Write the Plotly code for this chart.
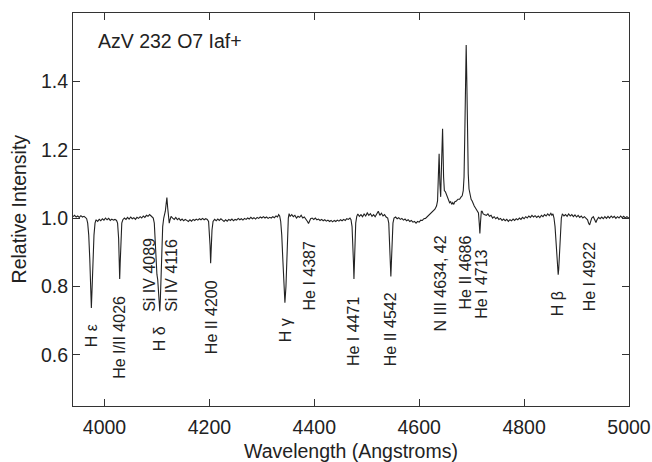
import plotly.graph_objects as go

# ---- spectrum samples (wavelength in Angstrom, relative intensity) ----
wavelength = [
    3940, 3943, 3946, 3949, 3952, 3955, 3958, 3961, 3964, 3966,
    3968, 3970, 3972, 3973.5, 3975, 3976.5, 3978, 3980, 3982, 3984,
    3987, 3990, 3993, 3996, 3999, 4002, 4005, 4008, 4011, 4014, 4017, 4020, 4023,
    4025, 4027, 4028, 4029, 4030, 4031, 4033, 4035,
    4038, 4041, 4044, 4047, 4050, 4053, 4056, 4059, 4062, 4065, 4068, 4071, 4074, 4077, 4080, 4083, 4086, 4089,
    4093, 4095, 4097, 4098.5, 4100, 4101.5, 4103, 4104.5, 4105.5, 4106.5, 4108, 4109.5, 4111, 4113,
    4114.5, 4116, 4117.5, 4119, 4120.5, 4122, 4123.5, 4125, 4127,
    4130, 4133, 4136, 4139, 4142, 4145, 4148, 4151, 4154, 4157, 4160, 4163, 4166, 4169, 4172, 4175,
    4178, 4181, 4184, 4187, 4190, 4193, 4196, 4198.5,
    4200, 4201.3, 4202.4, 4203.5, 4205, 4207,
    4210, 4213, 4216, 4219, 4222, 4225, 4228, 4231, 4234, 4237, 4240, 4243, 4246, 4249, 4252, 4255,
    4258, 4261, 4264, 4267, 4270, 4273, 4276, 4279, 4282, 4285, 4288, 4291, 4294, 4297, 4300, 4303,
    4306, 4309, 4312, 4315, 4318, 4321, 4324, 4327, 4330, 4332, 4334,
    4336, 4338, 4340, 4342, 4344, 4346, 4347.5, 4349, 4350.5, 4352, 4354,
    4357, 4360, 4363, 4366, 4369, 4372, 4375, 4378, 4381, 4384, 4387, 4389, 4391, 4393, 4396, 4399,
    4402, 4405, 4408, 4411, 4414, 4417, 4420, 4423, 4426, 4429, 4432, 4435, 4438, 4441, 4444, 4447,
    4450, 4453, 4456, 4459, 4462, 4465, 4468, 4470,
    4472, 4473.5, 4474.7, 4475.6, 4476.5, 4477.7, 4479, 4481, 4483,
    4486, 4489, 4492, 4495, 4498, 4501, 4504, 4507, 4510, 4513, 4516, 4519, 4522, 4525, 4528, 4531,
    4534, 4537, 4540,
    4542, 4543.5, 4545, 4546, 4547, 4548.5, 4550, 4552,
    4555, 4558, 4561, 4564, 4567, 4570, 4573, 4576, 4579, 4582, 4585, 4588, 4591, 4594, 4597, 4600,
    4603, 4606, 4609, 4612, 4615, 4618, 4621, 4624, 4627, 4630, 4633, 4635,
    4636.5, 4638, 4639.5, 4641, 4642.5, 4644.6, 4646.5, 4648, 4650, 4652, 4654, 4656, 4658, 4660,
    4662, 4664, 4666, 4668, 4671, 4674, 4677, 4680, 4682, 4684,
    4685.5, 4687, 4688.3, 4689.6, 4690.8, 4692, 4693.5, 4695, 4697, 4699, 4701, 4703, 4705, 4707,
    4709, 4711, 4713,
    4714.5, 4715.7, 4717, 4718.5, 4720, 4722, 4725,
    4728, 4731, 4734, 4737, 4740, 4743, 4746, 4749, 4752, 4755, 4758, 4761, 4764, 4767, 4770, 4773,
    4776, 4779, 4782, 4785, 4788, 4791, 4794, 4797, 4800, 4803, 4806, 4809, 4812, 4815, 4818, 4821,
    4824, 4827, 4830, 4833, 4836, 4839, 4842, 4845, 4848, 4851, 4853, 4855, 4857,
    4859, 4861, 4862.5, 4864, 4865, 4866, 4867.5, 4869, 4871, 4873,
    4876, 4879, 4882, 4885, 4888, 4891, 4894, 4897, 4900, 4903, 4906, 4909, 4912, 4915, 4918, 4921,
    4923, 4925, 4927, 4929, 4932, 4935, 4937, 4939, 4942, 4945, 4948, 4951, 4954, 4957, 4960, 4963,
    4966, 4969, 4972, 4975, 4978, 4981, 4984, 4987, 4990, 4993, 4996, 5000,
]

intensity = [
    1.004, 1.008, 1.003, 1.006, 1.002, 1.007, 1.003, 1.005, 1.001, 0.998,
    0.985, 0.95, 0.88, 0.80, 0.737, 0.80, 0.88, 0.95, 0.985, 0.995,
    0.99, 0.996, 0.992, 0.998, 0.994, 1.0, 0.995, 0.999, 0.993, 0.997, 0.994, 0.996, 0.993,
    0.985, 0.94, 0.88, 0.822, 0.87, 0.94, 0.985, 0.995,
    1.0, 0.996, 1.002, 0.997, 1.003, 0.998, 1.001, 0.996, 1.002, 0.999, 1.004, 1.0, 1.006, 1.002, 1.008, 1.005, 1.01, 1.006,
    1.0, 0.985, 0.92, 0.85, 0.835, 0.82, 0.78, 0.735, 0.727, 0.76, 0.84, 0.92, 0.975, 1.0,
    1.01, 1.02, 1.04, 1.06, 1.03, 1.0, 0.985, 0.995, 1.005,
    1.0, 0.996, 1.002, 0.995, 0.999, 0.993, 0.997, 0.992, 0.996, 0.994, 0.99, 0.995, 0.991, 0.996, 0.993, 0.997,
    0.994, 0.998, 0.995, 0.999, 0.995, 0.998, 0.996, 0.99,
    0.965, 0.92, 0.868, 0.92, 0.965, 0.99,
    0.996, 0.992, 0.997, 0.993, 0.998, 0.994, 0.99, 0.995, 0.991, 0.996, 0.993, 0.997, 0.992, 0.996, 0.994, 0.999,
    0.995, 0.998, 0.994, 0.999, 0.996, 1.0, 0.997, 1.002, 0.998, 1.001, 0.997, 1.002, 0.999, 1.003, 1.0, 1.004,
    1.0, 1.003, 0.999, 1.002, 1.0, 1.004, 1.001, 1.006, 1.003, 1.01, 1.006,
    0.99, 0.95, 0.88, 0.80, 0.752, 0.80, 0.88, 0.96, 1.0, 1.013, 1.005,
    1.01, 1.004, 1.008, 1.0, 1.005, 1.002, 1.008, 1.0, 1.003, 0.998, 0.99, 0.984, 0.99, 0.998, 1.0, 0.996,
    1.0, 0.995, 0.997, 0.993, 0.996, 0.992, 0.995, 0.991, 0.994, 0.99, 0.993, 0.989, 0.993, 0.99, 0.994, 0.991,
    0.995, 0.992, 0.996, 0.993, 0.998, 0.996, 1.0, 0.995,
    0.975, 0.93, 0.87, 0.822, 0.87, 0.94, 0.985, 1.005, 1.012,
    1.005, 1.01, 1.004, 1.012, 1.006, 1.015, 1.008, 1.013, 1.005, 1.01, 1.004, 1.012, 1.02, 1.008, 1.014, 1.006,
    1.01, 1.003, 1.0,
    0.985, 0.94, 0.87, 0.829, 0.87, 0.94, 0.985, 1.0,
    1.003, 0.998, 1.001, 0.996, 0.999, 0.994, 0.997, 0.992, 0.995, 0.99, 0.993, 0.988, 0.99, 0.985, 0.99, 0.988,
    0.994, 0.993, 0.998, 0.999, 1.004, 1.006, 1.012, 1.016, 1.022, 1.026, 1.035, 1.05,
    1.12, 1.188, 1.1, 1.062, 1.15, 1.261, 1.12, 1.08, 1.077, 1.07, 1.06, 1.052, 1.045, 1.048,
    1.04, 1.045, 1.04, 1.048, 1.05, 1.055, 1.055, 1.062, 1.065, 1.08,
    1.12, 1.25, 1.4, 1.506, 1.4, 1.25, 1.13, 1.085, 1.065, 1.055, 1.05, 1.04, 1.035, 1.03,
    1.025, 1.02, 1.015,
    0.985, 0.955, 0.99, 1.02, 1.02, 1.012, 1.01,
    1.008, 1.012, 1.005, 1.008, 1.0, 1.004, 0.998, 1.002, 0.996, 0.999, 0.993, 0.997, 0.992, 0.996, 0.99, 0.995,
    0.992, 0.997, 0.993, 0.998, 0.995, 1.0, 0.996, 1.002, 0.998, 1.004, 1.0, 1.006, 1.002, 1.008, 1.003, 1.007,
    1.002, 1.006, 1.001, 1.008, 1.004, 1.01, 1.006, 1.012, 1.007, 1.014, 1.008, 1.012, 1.0,
    0.975, 0.93, 0.88, 0.84, 0.834, 0.85, 0.9, 0.96, 1.0, 1.012,
    1.006, 1.01, 1.005, 1.012, 1.006, 1.01, 1.004, 1.009, 1.003, 1.008, 1.002, 1.006, 1.0, 1.004, 1.0, 0.995,
    0.985, 0.98, 0.99, 1.0, 1.004, 0.995, 0.987, 0.995, 1.002, 0.998, 1.003, 0.998, 1.004, 0.999, 1.005, 1.0,
    1.006, 1.001, 1.005, 0.999, 1.004, 1.0, 1.006, 1.001, 1.005, 1.0, 1.004, 1.0,
]

# ---- line identifications: text, wavelength position, and the intensity at the label's lower end ----
line_labels = ["H \u03b5", "He I/II 4026", "Si IV 4089", "H \u03b4", "Si IV 4116", "He II 4200",
               "H \u03b3", "He I 4387", "He I 4471", "He II 4542", "N III 4634, 42",
               "He II 4686", "He I 4713", "H \u03b2", "He I 4922"]
label_wavelength = [3975.5, 4029.5, 4087, 4105.5, 4128, 4204.5,
                    4345.5, 4390.5, 4476, 4546, 4641.5,
                    4689, 4717.5, 4865, 4924]
label_base = [0.619, 0.528, 0.723, 0.608, 0.723, 0.598,
              0.633, 0.726, 0.563, 0.563, 0.665,
              0.729, 0.703, 0.709, 0.723]

star_title = "AzV 232 O7 Iaf+"
x_title = "Wavelength (Angstroms)"
y_title = "Relative Intensity"
x_ticks = [4000, 4200, 4400, 4600, 4800, 5000]
y_ticks = [0.6, 0.8, 1.0, 1.2, 1.4]

INK = "#222222"
FONT = "Liberation Sans, Arial, Helvetica, sans-serif"

fig = go.Figure()
fig.add_trace(go.Scatter(x=wavelength, y=intensity, mode="lines",
                         line=dict(color=INK, width=1.1), hoverinfo="skip",
                         showlegend=False))

for txt, wl, base in zip(line_labels, label_wavelength, label_base):
    fig.add_annotation(x=wl, y=base, text=txt, textangle=-90, showarrow=False,
                       xanchor="center", yanchor="bottom", borderpad=0,
                       font=dict(family=FONT, size=16, color=INK))

fig.add_annotation(x=3985, y=1.518, text=star_title, showarrow=False,
                   xanchor="left", yanchor="middle", borderpad=0,
                   font=dict(family=FONT, size=19.5, color=INK))

# y-axis title placed as rotated paper-anchored text
fig.add_annotation(x=-0.0977, y=0.502, xref="paper", yref="paper", text=y_title,
                   textangle=-90, showarrow=False, xanchor="center", yanchor="middle",
                   borderpad=0, font=dict(family=FONT, size=19.5, color=INK))

axis_common = dict(showline=True, linecolor="#333333", linewidth=1, mirror="ticks",
                   ticks="inside", ticklen=7, tickwidth=1, tickcolor="#333333",
                   showgrid=False, zeroline=False, automargin=False,
                   tickfont=dict(family=FONT, size=19.5, color=INK))

fig.update_xaxes(range=[3940, 5000], tickvals=x_ticks, ticklabelstandoff=4,
                 title=dict(text=x_title,
                            font=dict(family=FONT, size=19.5, color=INK)),
                 **axis_common)
fig.update_yaxes(range=[0.45, 1.6], tickvals=y_ticks, tickformat=".1f",
                 **axis_common)

fig.update_layout(width=652, height=462, margin=dict(l=73, r=23, t=13, b=56),
                  paper_bgcolor="white", plot_bgcolor="white",
                  font=dict(family=FONT, color=INK))

fig.write_html("out.html")
